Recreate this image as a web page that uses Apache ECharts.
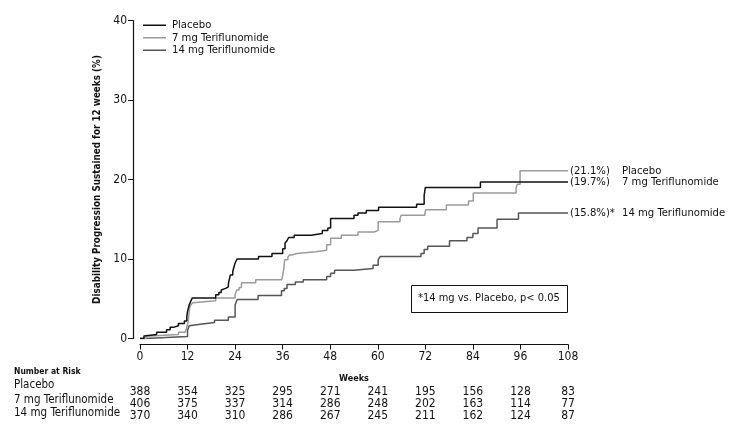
<!DOCTYPE html>
<html>
<head>
<meta charset="utf-8">
<script src="https://cdn.jsdelivr.net/npm/echarts@6/dist/echarts.min.js"></script>
<style>
html,body{margin:0;padding:0;background:#fff;}
#c{width:731px;height:435px;}
</style>
</head>
<body>
<div id="c"></div>
<script>
// ---- data ----
var weekTicks = [0, 12, 24, 36, 48, 60, 72, 84, 96, 108];
var seriesNames = ['Placebo', '7 mg Teriflunomide', '14 mg Teriflunomide'];

// Kaplan-Meier step points [week, % with progression]
var placeboKM = [[0,0],[1,0.3],[1.4,0.5],[4.2,0.8],[6.7,1.1],[7.6,1.4],[8.4,1.6],[9.7,1.9],[11.2,2.2],[11.8,2.7],[12.0,3.4],[12.4,4.2],[12.9,4.8],[13.2,5.1],[19.1,5.5],[19.9,5.8],[20.5,6.1],[20.9,6.3],[21.6,6.5],[22.3,6.9],[22.8,8.0],[23.4,8.4],[23.6,8.8],[24.0,9.5],[24.5,10.0],[29.9,10.3],[33.3,10.7],[36.0,11.3],[36.6,12.0],[37.1,12.3],[37.5,12.7],[38.9,13.0],[43.2,13.2],[46.0,13.6],[47.4,13.9],[48.1,15.1],[54.0,15.5],[55.0,15.8],[57.1,16.1],[60.2,16.5],[69.8,16.9],[71.7,18.0],[72.0,19.0],[85.9,19.7],[108,19.7]];
var teri7KM = [[0,0],[1.5,0.3],[2.6,0.5],[9.7,0.8],[11.4,1.0],[11.8,1.4],[12.2,2.3],[12.5,3.8],[12.8,4.2],[13.3,4.5],[13.8,4.75],[19.1,5.1],[24.0,5.5],[24.4,6.1],[25.0,6.4],[25.6,7.0],[29.2,7.4],[35.8,7.6],[36.3,8.8],[36.5,9.9],[37.3,10.2],[37.7,10.5],[38.3,10.7],[39.6,10.9],[44.3,11.1],[47.1,11.8],[48.1,12.6],[50.8,13.0],[55.0,13.4],[59.1,13.6],[60.1,14.7],[65.6,15.1],[65.9,15.5],[71.9,15.8],[72.1,16.2],[77.3,16.8],[82.9,17.3],[84.1,18.3],[94.9,18.9],[95.2,19.4],[95.9,21.1],[108,21.1]];
var teri14KM = [[0,0],[1.2,0.25],[12.0,1.0],[12.4,1.6],[12.9,1.8],[15.2,2.0],[18.8,2.3],[22.3,2.7],[24.0,4.2],[24.5,4.9],[29.8,5.4],[35.7,6.0],[36.4,6.3],[37.1,6.8],[39.2,7.1],[41.2,7.4],[47.1,7.8],[48.1,8.2],[49.1,8.6],[54.0,8.8],[58.8,9.2],[60.1,9.9],[60.6,10.3],[70.9,10.7],[71.7,11.2],[72.6,11.6],[78.1,12.3],[82.5,12.7],[84.0,13.2],[85.3,13.9],[90.1,15.0],[95.5,15.8],[108,15.8]];

// end-of-curve labels as printed in the figure
var endPct = ['(19.7%)', '(21.1%)', '(15.8%)*'];
var endName = ['7 mg Teriflunomide', 'Placebo', '14 mg Teriflunomide'];

// numbers at risk
var riskPlacebo = [388, 354, 325, 295, 271, 241, 195, 156, 128, 83];
var risk7 = [406, 375, 337, 314, 286, 248, 202, 163, 114, 77];
var risk14 = [370, 340, 310, 286, 267, 245, 211, 162, 124, 87];
var riskLabels = ['Placebo', '7 mg Teriflunomide', '14 mg Teriflunomide'];

var yTicks = [0, 10, 20, 30, 40];
var yTitle = 'Disability Progression Sustained for 12 weeks (%)';
var xTitle = 'Weeks';
var noteText = '*14 mg vs. Placebo, p< 0.05';

// ---- chart ----
var FONT = "'Liberation Sans Narrow','DejaVu Sans Condensed','Roboto',sans-serif";
var INK = '#111';
var colors = ['#111111', '#9b9b9b', '#555555'];
var kmData = [placeboKM, teri7KM, teri14KM];

var chart = echarts.init(document.getElementById('c'), null, {renderer: 'canvas'});

function riskAxis(row, offset) {
  return {
    type: 'value', gridIndex: 0, position: 'bottom', offset: offset,
    min: weekTicks[0], max: weekTicks[weekTicks.length - 1], interval: 12,
    axisLine: {show: false, onZero: false}, axisTick: {show: false}, splitLine: {show: false},
    axisLabel: {
      margin: 0, fontFamily: FONT, fontSize: 12, color: INK,
      formatter: function (v) { var i = weekTicks.indexOf(v); return i >= 0 ? String(row[i]) : ''; }
    }
  };
}

var series = kmData.map(function (d, i) {
  return {
    name: seriesNames[i], type: 'line', step: 'end', data: d,
    xAxisIndex: 0, yAxisIndex: 0,
    symbol: 'none', showSymbol: false,
    lineStyle: {color: colors[i], width: 1.5},
    itemStyle: {color: colors[i]},
    z: 3 - i,
    endLabel: {
      show: true, distance: 2,
      formatter: function () { return '{p|' + endPct[i] + '}{n|' + endName[i] + '}'; },
      rich: {
        p: {fontFamily: FONT, fontSize: 11.2, color: INK, width: 52, align: 'left'},
        n: {fontFamily: FONT, fontSize: 11.2, color: INK}
      }
    }
  };
});

var option = {
  animation: false,
  backgroundColor: '#fff',
  textStyle: {fontFamily: FONT},
  grid: {left: 140, right: 163, top: 20.5, bottom: 96.5, containLabel: false},
  legend: {
    data: seriesNames, orient: 'vertical', left: 143, top: 19, padding: 0,
    icon: 'rect', itemGap: 0, itemWidth: 23, itemHeight: 1.5,
    textStyle: {fontFamily: FONT, fontSize: 11.2, color: INK, lineHeight: 12.5, padding: [0, 0, 0, 1]}
  },
  xAxis: [
    {
      type: 'value', gridIndex: 0, position: 'bottom', offset: 6,
      min: weekTicks[0], max: weekTicks[weekTicks.length - 1], interval: 12,
      name: xTitle, nameLocation: 'middle', nameGap: 29.5,
      nameTextStyle: {fontFamily: FONT, fontSize: 9, fontWeight: 'bold', color: INK},
      axisLine: {show: true, onZero: false, lineStyle: {color: INK, width: 1.2}},
      axisTick: {show: true, length: 5, inside: false, lineStyle: {color: INK}},
      axisLabel: {margin: 6, fontFamily: FONT, fontSize: 12, color: INK},
      splitLine: {show: false}
    },
    riskAxis(riskPlacebo, 47),
    riskAxis(risk7, 59),
    riskAxis(risk14, 71.5)
  ],
  yAxis: [{
    type: 'value', gridIndex: 0, position: 'left', offset: 7,
    min: yTicks[0], max: yTicks[yTicks.length - 1], interval: 10,
    name: yTitle, nameLocation: 'middle', nameGap: 18,
    nameTextStyle: {fontFamily: FONT, fontSize: 9.8, fontWeight: 'bold', color: INK},
    axisLine: {show: true, onZero: false, lineStyle: {color: INK, width: 1.2}},
    axisTick: {show: true, length: 5, lineStyle: {color: INK}},
    axisLabel: {margin: 6, fontFamily: FONT, fontSize: 12, color: INK},
    splitLine: {show: false}
  }],
  series: series,
  graphic: [
    {type: 'text', left: 14, top: 366.8, style: {text: 'Number at Risk', fontFamily: FONT, fontSize: 8.5, fontWeight: 'bold', fill: INK}},
    {type: 'text', left: 14, top: 379.2, style: {text: riskLabels[0], fontFamily: FONT, fontSize: 11.5, fill: INK}},
    {type: 'text', left: 14, top: 393.7, style: {text: riskLabels[1], fontFamily: FONT, fontSize: 11.5, fill: INK}},
    {type: 'text', left: 14, top: 407.2, style: {text: riskLabels[2], fontFamily: FONT, fontSize: 11.5, fill: INK}},
    {type: 'rect', left: 411, top: 285, shape: {width: 156, height: 27}, style: {fill: '#fff', stroke: INK, lineWidth: 1}},
    {type: 'text', left: 418, top: 292.8, style: {text: noteText, fontFamily: FONT, fontSize: 11, fill: INK}}
  ]
};
chart.setOption(option);
</script>
</body>
</html>
